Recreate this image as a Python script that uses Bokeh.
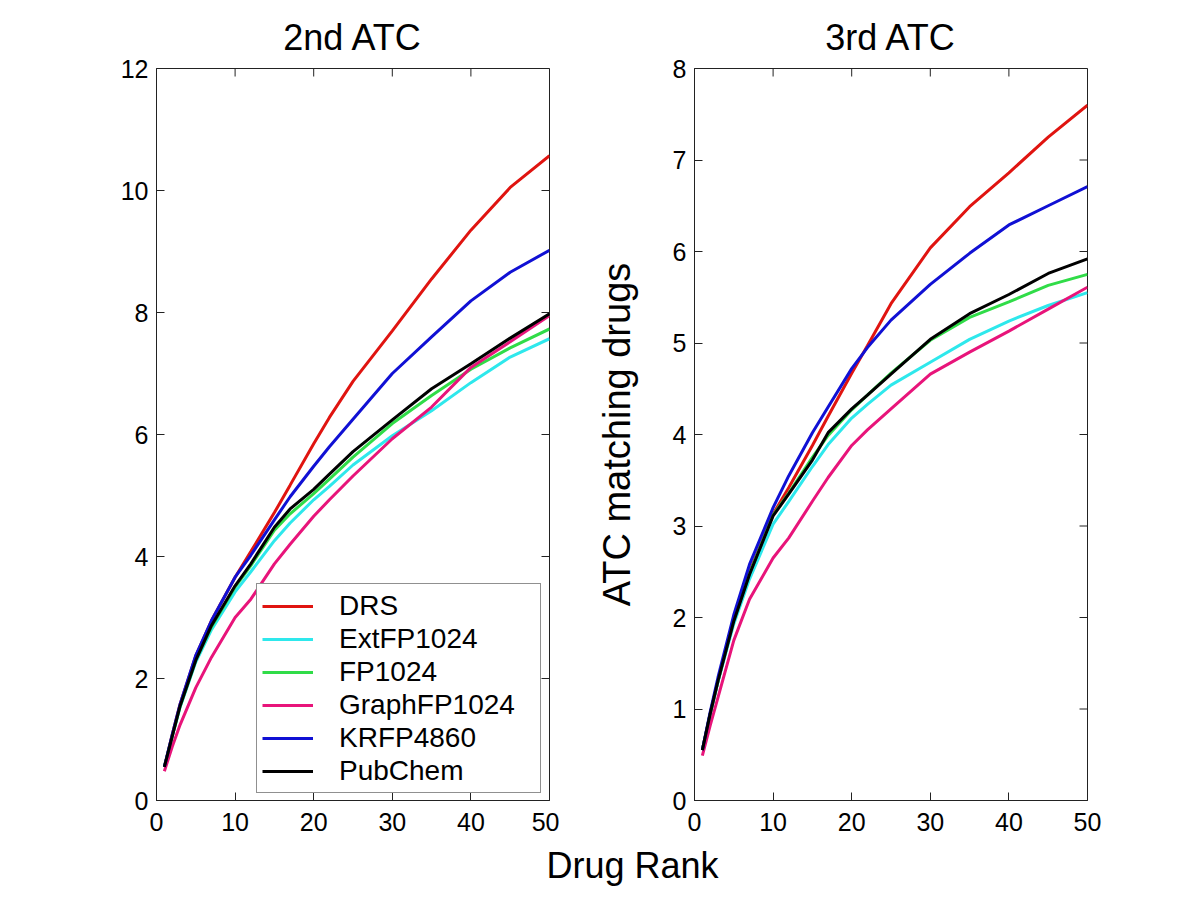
import math
from bokeh.plotting import figure
from bokeh.models import Range1d, FixedTicker, Legend, LegendItem, Label
from bokeh.layouts import column, row
from bokeh.embed import file_html
from bokeh.resources import INLINE

FONT = "Liberation Sans"

# ---------------- data ----------------
ranks = [1, 2, 3, 5, 7, 10, 12, 15, 17, 20, 22, 25, 30, 35, 40, 45, 50]
methods = ["DRS", "ExtFP1024", "FP1024", "GraphFP1024", "KRFP4860", "PubChem"]
colors = ["#e01410", "#2ee8ec", "#30dc48", "#e8147a", "#1010d4", "#000000"]

# 2nd-level ATC
atc2_drs = [0.55, 1.08, 1.58, 2.37, 2.95, 3.66, 4.08, 4.72, 5.17, 5.85, 6.28, 6.87, 7.70, 8.55, 9.35, 10.05, 10.57]
atc2_ext = [0.55, 1.05, 1.53, 2.27, 2.80, 3.42, 3.75, 4.26, 4.55, 4.93, 5.15, 5.50, 5.98, 6.39, 6.85, 7.27, 7.57]
atc2_fp = [0.55, 1.05, 1.54, 2.30, 2.85, 3.50, 3.85, 4.43, 4.70, 5.03, 5.27, 5.63, 6.18, 6.64, 7.07, 7.42, 7.73]
atc2_graph = [0.48, 0.88, 1.24, 1.85, 2.35, 3.00, 3.30, 3.88, 4.20, 4.66, 4.93, 5.32, 5.93, 6.45, 7.10, 7.52, 7.95]
atc2_krfp = [0.55, 1.08, 1.58, 2.38, 2.95, 3.66, 4.02, 4.60, 4.98, 5.48, 5.80, 6.25, 7.00, 7.60, 8.19, 8.66, 9.02]
atc2_pub = [0.55, 1.05, 1.55, 2.30, 2.87, 3.52, 3.88, 4.48, 4.78, 5.10, 5.35, 5.72, 6.24, 6.75, 7.16, 7.58, 7.98]

# 3rd-level ATC
atc3_drs = [0.55, 0.95, 1.31, 1.98, 2.50, 3.13, 3.42, 3.88, 4.20, 4.67, 4.97, 5.43, 6.04, 6.49, 6.86, 7.25, 7.60]
atc3_ext = [0.55, 0.94, 1.30, 1.93, 2.42, 3.02, 3.27, 3.65, 3.89, 4.18, 4.33, 4.54, 4.79, 5.04, 5.24, 5.41, 5.55]
atc3_fp = [0.55, 0.95, 1.31, 1.97, 2.48, 3.12, 3.36, 3.75, 3.99, 4.27, 4.43, 4.67, 5.03, 5.28, 5.45, 5.63, 5.75]
atc3_graph = [0.49, 0.82, 1.13, 1.75, 2.20, 2.65, 2.87, 3.27, 3.53, 3.88, 4.05, 4.28, 4.66, 4.90, 5.13, 5.37, 5.61]
atc3_krfp = [0.55, 0.97, 1.35, 2.03, 2.58, 3.20, 3.55, 4.02, 4.30, 4.72, 4.95, 5.25, 5.64, 5.98, 6.29, 6.50, 6.71]
atc3_pub = [0.55, 0.95, 1.31, 1.96, 2.47, 3.11, 3.35, 3.72, 4.02, 4.28, 4.43, 4.66, 5.04, 5.32, 5.53, 5.76, 5.92]

x_ticks = [0, 10, 20, 30, 40, 50]
y_ticks_2 = [0, 2, 4, 6, 8, 10, 12]
y_ticks_3 = [0, 1, 2, 3, 4, 5, 6, 7, 8]

AXC = "#222222"


def style_axis(ax, standoff):
    ax.major_tick_in = 8
    ax.major_tick_out = 0
    ax.minor_tick_in = 0
    ax.minor_tick_out = 0
    ax.major_tick_line_color = AXC
    ax.major_tick_line_width = 1
    ax.axis_line_color = AXC
    ax.axis_line_width = 1
    ax.major_label_text_font = FONT
    ax.major_label_text_color = "black"
    ax.major_label_text_font_size = "25px"
    ax.major_label_standoff = standoff


def make_panel(title, series, xmax, ymax, yticks, left_border, right_border):
    p = figure(frame_width=393, frame_height=732,
               x_range=Range1d(0, xmax), y_range=Range1d(0, ymax),
               output_backend="svg", toolbar_location=None,
               min_border_left=left_border, min_border_right=right_border,
               min_border_top=68, min_border_bottom=45)
    p.title.text = title
    p.title.text_font = FONT
    p.title.text_font_size = "36px"
    p.title.text_font_style = "normal"
    p.title.text_color = "black"
    p.title.align = "center"
    p.title.standoff = 22
    p.grid.visible = False
    p.outline_line_color = AXC
    p.outline_line_width = 1
    p.background_fill_color = "white"
    p.border_fill_color = "white"

    p.xaxis.ticker = FixedTicker(ticks=x_ticks)
    p.yaxis.ticker = FixedTicker(ticks=yticks)
    style_axis(p.xaxis[0], 12)
    style_axis(p.yaxis[0], 8)

    # inward ticks on the top and right edges of the box
    p.ray(x=x_ticks, y=[ymax] * len(x_ticks), length=8, length_units="screen",
          angle=-math.pi / 2, line_color=AXC, line_width=1)
    p.ray(x=[xmax] * len(yticks), y=yticks, length=8, length_units="screen",
          angle=math.pi, line_color=AXC, line_width=1)

    renderers = []
    for vals, col in zip(series, colors):
        r = p.line(ranks, vals, line_color=col, line_width=3)
        renderers.append(r)
    return p, renderers


p1, r1 = make_panel("2nd ATC",
                    [atc2_drs, atc2_ext, atc2_fp, atc2_graph, atc2_krfp, atc2_pub],
                    50, 12, y_ticks_2, 156, 10)
p2, r2 = make_panel("3rd ATC",
                    [atc3_drs, atc3_ext, atc3_fp, atc3_graph, atc3_krfp, atc3_pub],
                    50, 8, y_ticks_3, 135, 100)

p2.yaxis[0].axis_label = "ATC matching drugs"
p2.yaxis[0].axis_label_text_font = FONT
p2.yaxis[0].axis_label_text_font_size = "38px"
p2.yaxis[0].axis_label_text_font_style = "normal"
p2.yaxis[0].axis_label_text_color = "black"
p2.yaxis[0].axis_label_standoff = 32

legend = Legend(items=[LegendItem(label=m, renderers=[r]) for m, r in zip(methods, r1)],
                location=(100, 7))
legend.label_text_font = FONT
legend.label_text_font_size = "28px"
legend.label_text_color = "black"
legend.glyph_width = 51
legend.glyph_height = 20
legend.label_height = 33
legend.label_width = 196
legend.label_standoff = 26
legend.spacing = 0
legend.padding = 5
legend.margin = 0
legend.border_line_color = AXC
legend.border_line_width = 1
legend.background_fill_color = "white"
legend.background_fill_alpha = 1
p1.add_layout(legend)

p3 = figure(width=1187, height=50, x_range=Range1d(0, 1), y_range=Range1d(0, 1),
            output_backend="svg", toolbar_location=None, min_border=0,
            x_axis_type=None, y_axis_type=None)
p3.outline_line_color = None
p3.grid.visible = False
p3.add_layout(Label(x=632, y=30, x_units="screen", y_units="screen", text="Drug Rank",
                    text_align="center", text_baseline="alphabetic",
                    text_font=FONT, text_font_size="36px", text_color="black"))

layout = column(row(p1, p2), p3)
open("out.html", "w").write(file_html(layout, INLINE))
